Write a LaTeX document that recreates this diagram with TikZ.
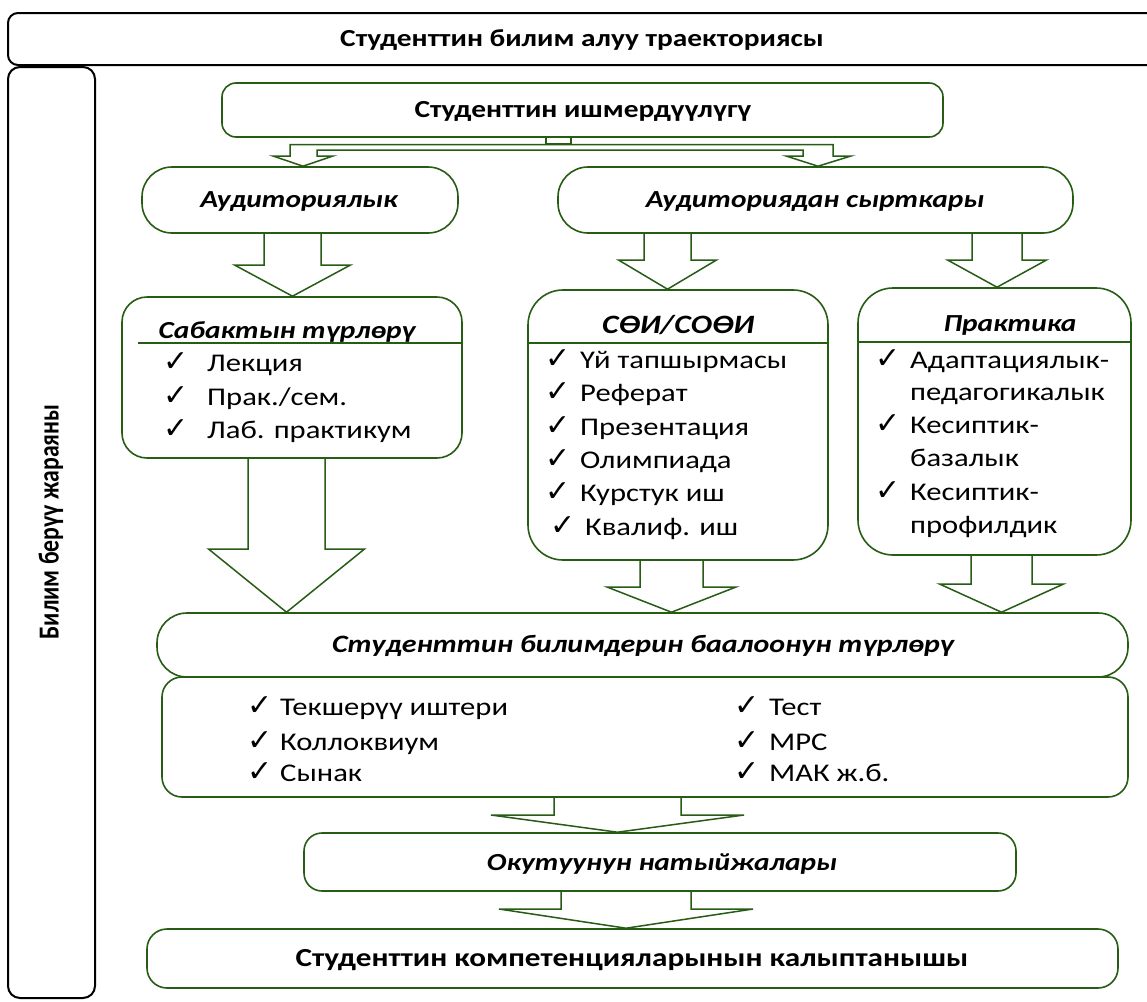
\documentclass[tikz,border=0pt]{standalone}
\usepackage{fontspec}
\setmainfont{Carlito}[FakeStretch=1.2]
\newfontfamily\rotfont{Carlito}[FakeStretch=0.82]
\newfontfamily\chkfont{DejaVu Sans}
\usetikzlibrary{calc}
\definecolor{grn}{RGB}{38,92,20}
\pgfdeclarelayer{bg}
\pgfsetlayers{bg,main}

\tikzset{
  gbox/.style={draw=grn, line width=1.6pt, fill=white, rounded corners=#1, inner sep=0pt},
  gbox/.default=15pt,
  kbox/.style={draw=black, line width=2pt, fill=white, rounded corners=#1, inner sep=0pt},
  kbox/.default=10pt,
  arr/.style={draw=grn, line width=1.5pt, fill=white, line join=miter},
  ttl/.style={inner sep=0pt, font=\fontsize{24.5}{28}\selectfont\bfseries},
  ittl/.style={inner sep=0pt, font=\fontsize{24.5}{28}\selectfont\bfseries\itshape},
  itm/.style={inner sep=0pt, anchor=base west, font=\fontsize{25.5}{28}\selectfont},
  sepline/.style={draw=grn, line width=1.6pt},
}

\newcommand\chk{{\chkfont\bfseries\fontsize{30}{30}\selectfont ✓}}
\newcommand\ck[2]{\makebox[#1][l]{\chk}#2}

% box: style, name, x1, y1, x2, y2, text
\newcommand\boxat[7]{%
  \pgfmathsetmacro\bw{#5-#3}\pgfmathsetmacro\bh{#6-#4}%
  \pgfmathsetmacro\bx{(#3+#5)/2}\pgfmathsetmacro\by{(#4+#6)/2}%
  \node[#1, minimum width=\bw pt, minimum height=\bh pt] (#2) at (\bx,\by) {#7};}

% block arrow: src, tgt, x centre, stem half, head half, head y
\newcommand\barrow[6]{%
  \pgfmathsetmacro\xa{#3-#4}\pgfmathsetmacro\xb{#3+#4}%
  \pgfmathsetmacro\xc{#3-#5}\pgfmathsetmacro\xd{#3+#5}%
  \draw[arr] (\xa,0 |- #1.south) -- (\xa,#6) -- (\xc,#6) -- (#3,0 |- #2.north)
     -- (\xd,#6) -- (\xb,#6) -- (\xb,0 |- #1.south);}

\begin{document}
\begin{tikzpicture}[x=1pt,y=-1pt]
\useasboundingbox (0,0) rectangle (1147,1001);

% outer frame
\boxat{kbox=10pt}{top}{8}{13}{1160}{65}{}
\node[ttl] (topT) at (582,40) {Студенттин билим алуу траекториясы};
\boxat{kbox=12pt}{left}{8}{67}{95}{998}{}
\node[inner sep=0pt, rotate=90, font=\rotfont\bfseries\fontsize{29}{29}\selectfont] (leftT) at (51,522) {Билим берүү жараяны};

% activity
\boxat{gbox=14pt}{ishm}{222}{83}{943}{137}{}
\node[ttl] (ishmT) at (583,111) {Студенттин ишмердүүлүгү};
\node[draw=grn, line width=1.2pt, fill=white, inner sep=0pt, minimum width=25pt, minimum height=7pt] (jn) at (558.5,140.5) {};

\boxat{gbox=30pt}{aud}{142}{167}{458}{233}{}
\node[ittl] (audT) at (299,202) {Аудиториялык};
\boxat{gbox=30pt}{syrt}{558}{167}{1073}{233}{}
\node[ittl] (syrtT) at (815,202) {Аудиториядан сырткары};

% lesson types
\boxat{gbox=25pt}{sab}{122}{297}{462}{458}{}
\node[ittl, anchor=base] (sabT) at (287,338) {Сабактын түрлөрү};
\draw[sepline] (138,343) -- (462,343);
\node[itm] (sab1) at (163,371) {\ck{44pt}{Лекция}};
\node[itm] (sab2) at (163,405) {\ck{44pt}{Прак./сем.}};
\node[itm] (sab3) at (163,438) {\ck{44pt}{Лаб. практикум}};

% SOI
\boxat{gbox=35pt}{soi}{528}{290}{828}{560}{}
\node[ittl, font=\fontsize{26.5}{30}\selectfont\bfseries\itshape] (soiT) at (678,325) {СӨИ/СОӨИ};
\draw[sepline] (528,343) -- (828,343);
\node[itm] (soi1) at (545,368) {\ck{35pt}{Үй тапшырмасы}};
\node[itm] (soi2) at (545,401) {\ck{35pt}{Реферат}};
\node[itm] (soi3) at (545,435) {\ck{35pt}{Презентация}};
\node[itm] (soi4) at (545,468) {\ck{35pt}{Олимпиада}};
\node[itm] (soi5) at (545,501) {\ck{35pt}{Курстук иш}};
\node[itm] (soi6) at (550,535) {\ck{35pt}{Квалиф. иш}};

% practice
\boxat{gbox=35pt}{prak}{858}{288}{1131}{555}{}
\node[ittl] (prakT) at (1010,325) {Практика};
\draw[sepline] (858,342) -- (1131,342);
\node[itm] (pr1) at (875,368) {\ck{35pt}{Адаптациялык-}};
\node[itm] (pr1b) at (910,400) {педагогикалык};
\node[itm] (pr2) at (875,433) {\ck{35pt}{Кесиптик-}};
\node[itm] (pr2b) at (910,466) {базалык};
\node[itm] (pr3) at (875,500) {\ck{35pt}{Кесиптик-}};
\node[itm] (pr3b) at (910,533) {профилдик};

% assessment
\boxat{gbox=30pt}{baal}{157}{613}{1128}{677}{}
\node[ittl, font=\fontsize{25}{28}\selectfont\bfseries\itshape] (baalT) at (643,646) {Студенттин билимдерин баалоонун түрлөрү};
\boxat{gbox=20pt}{ev}{162}{677}{1128}{797}{}
\node[itm] (ev1) at (247,715) {\ck{33pt}{Текшерүү иштери}};
\node[itm] (ev2) at (247,750) {\ck{33pt}{Коллоквиум}};
\node[itm] (ev3) at (247,781) {\ck{33pt}{Сынак}};
\node[itm] (ev4) at (734,715) {\ck{35pt}{Тест}};
\node[itm] (ev5) at (734,750) {\ck{35pt}{МРС}};
\node[itm] (ev6) at (734,781) {\ck{35pt}{МАК ж.б.}};

% results
\boxat{gbox=18pt}{okut}{304}{833}{1016}{891}{}
\node[ittl] (okutT) at (662,864) {Окутуунун натыйжалары};
\boxat{gbox=20pt}{fin}{147}{929}{1118}{988}{}
\node[ttl, font=\fontsize{26}{28}\selectfont\bfseries] (finT) at (632,960) {Студенттин компетенцияларынын калыптанышы};

% background, split connector and block arrows
\begin{pgfonlayer}{bg}
\fill[white] (0,0) rectangle (1147,1001);
\draw[arr] (290,0 |- jn.south) -- (833,0 |- jn.south) -- (833,156) -- (851,156) -- (818,0 |- syrt.north)
  -- (786,156) -- (803,156) -- (803,150) -- (317,150) -- (317,156) -- (333,156) -- (303,0 |- aud.north)
  -- (273,156) -- (290,156) -- cycle;
\barrow{aud}{sab}{292.5}{28.5}{58}{265}
\barrow{sab}{baal}{286.5}{38.5}{78}{549}
\barrow{syrt}{soi}{667.5}{23.5}{49}{260}
\barrow{syrt}{prak}{997}{25}{49.5}{260}
\barrow{soi}{baal}{671.5}{31.5}{64.5}{587}
\barrow{prak}{baal}{1001.5}{30.5}{62}{584}
\barrow{ev}{okut}{617.5}{63.5}{126.5}{815}
\barrow{okut}{fin}{626}{65}{127}{909}
\end{pgfonlayer}
\end{tikzpicture}
\end{document}
